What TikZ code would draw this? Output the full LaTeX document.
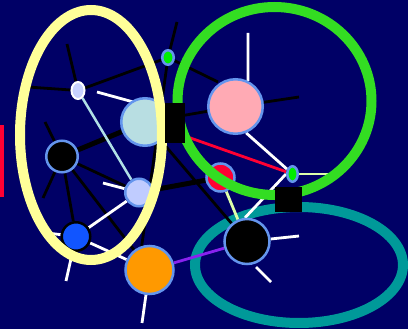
\documentclass[tikz,border=0pt]{standalone}
\usetikzlibrary{shapes.geometric}
\pgfdeclarelayer{bgl}
\pgfdeclarelayer{edgel}
\pgfdeclarelayer{frontl}
\pgfdeclarelayer{topl}
\pgfsetlayers{bgl,edgel,main,frontl,topl}
\definecolor{navy}{HTML}{000066}
\definecolor{ylw}{HTML}{FFFF99}
\definecolor{grn}{HTML}{33DD22}
\definecolor{tealc}{HTML}{009999}
\definecolor{cbl}{HTML}{6495ED}
\definecolor{powder}{HTML}{B8DEE2}
\definecolor{lav}{HTML}{C0CCFF}
\definecolor{lavA}{HTML}{C8D2FF}
\definecolor{pnk}{HTML}{FFAAB4}
\definecolor{redc}{HTML}{FF0033}
\definecolor{orng}{HTML}{FF9900}
\definecolor{blu}{HTML}{1155FF}
\definecolor{gnode}{HTML}{00EE00}
\definecolor{purp}{HTML}{8822EE}
\definecolor{pale}{HTML}{DDFFAA}
\definecolor{lblue}{HTML}{B0E0E6}
\begin{document}
\begin{tikzpicture}[x=1pt,y=-1pt,
  nd/.style={circle,draw=cbl,line width=2.5pt,inner sep=0pt},
  ovl/.style={ellipse,draw=cbl,line width=2.5pt,inner sep=0pt,fill=gnode},
  blk/.style={draw=black,line width=2.8pt},
  thk/.style={draw=black,line width=5pt},
  wht/.style={draw=white,line width=2.8pt},
  band/.style={line width=10pt},
  sq/.style={rectangle,fill=black,inner sep=0pt}]
\useasboundingbox (0,0) rectangle (408,329);
\begin{pgfonlayer}{bgl}
\fill[navy] (0,0) rectangle (408,329);
\draw[tealc,band] (299,265) ellipse [x radius=104, y radius=58];
\fill[redc] (0,125) rectangle (4,197);
\end{pgfonlayer}
% nodes
\node[ellipse,draw=white,line width=2pt,inner sep=0pt,fill=lavA,minimum width=13pt,minimum height=17pt] (A) at (78,90.5) {};
\node[nd,fill=powder,minimum size=47.5pt] (B) at (145,122) {};
\node[ovl,minimum width=11.5pt,minimum height=14.5pt] (D) at (168,57.5) {};
\node[nd,fill=pnk,minimum size=54.5pt] (E) at (235.5,106.5) {};
\node[nd,fill=black,minimum size=31.5pt] (F) at (62,156.5) {};
\node[nd,fill=lav,minimum size=27.5pt] (G) at (139,192.5) {};
\node[nd,draw=black,fill=blu,minimum size=28.5pt] (H) at (76,236.5) {};
\node[nd,fill=orng,minimum size=48pt] (I) at (149.5,270) {};
\node[nd,fill=redc,minimum size=28pt] (J) at (220.5,177.5) {};
\node[ovl,minimum width=10.5pt,minimum height=15.5pt] (L) at (292.5,174) {};
\node[nd,fill=black,minimum size=45pt] (M) at (247,241.5) {};
% free ends
\coordinate (a1) at (28,87);
\coordinate (a2) at (67,44);
\coordinate (d1) at (177,22);
\coordinate (d2) at (218,82);
\coordinate (e1) at (248,33);
\coordinate (e2) at (299,97);
\coordinate (f1) at (45,122);
\coordinate (f2) at (43,198);
\coordinate (g1) at (103,183);
\coordinate (h1) at (47,233);
\coordinate (h2) at (66,281);
\coordinate (i1) at (142,323);
\coordinate (m1) at (299,236);
\coordinate (m2a) at (256,267);
\coordinate (m2b) at (271,282);
\coordinate (l1) at (328,174);
\coordinate (w1) at (97,92);
\coordinate (w2) at (137,103);
\begin{pgfonlayer}{edgel}
\draw[blk] (A) -- (D);
\draw[blk] (D) -- (I.108);
\draw[blk] (B) -- (E);
\draw[blk] (B) -- (M);
\draw[blk] (F) -- (G);
\draw[blk] (F) -- (H);
\draw[blk] (F) -- (I);
\draw[thk] (F) -- (B);
\draw[thk] (G) -- (J);
\draw[draw=redc,line width=2.8pt] (B) -- (L);
\draw[draw=lblue,line width=2.5pt] (A) -- (G);
\draw[wht] (G) -- (H);
\draw[wht] (H) -- (I);
\draw[wht] (E.-68) -- (L);
\draw[wht] (L.west) -- (M.95);
\draw[draw=pale,line width=2.8pt] (J) -- (M);
\draw[draw=purp,line width=2.8pt] (I) -- (M);
% spokes
\draw[blk] (A) -- (a1);
\draw[blk] (A) -- (a2);
\draw[blk] (D) -- (d1);
\draw[blk] (D) -- (d2);
\draw[wht] (E.64) -- (e1);
\draw[blk] (E) -- (e2);
\draw[blk] (F) -- (f1);
\draw[blk] (F) -- (f2);
\draw[wht] (G) -- (g1);
\draw[wht] (H) -- (h1);
\draw[wht] (H) -- (h2);
\draw[wht] (I) -- (i1);
\draw[wht] (M) -- (m1);
\draw[wht] (m2a) -- (m2b);
\draw[draw=pale,line width=2.5pt] (L) -- (l1);
\draw[wht] (w1) -- (w2);
\end{pgfonlayer}
\begin{pgfonlayer}{frontl}
\draw[ylw,band] (91,135) ellipse [x radius=71, y radius=125];
\draw[grn,band] (274.5,101) ellipse [x radius=97, y radius=94];
\end{pgfonlayer}
\begin{pgfonlayer}{topl}
\node[sq,minimum width=20pt,minimum height=40pt] (C) at (175,123) {};
\node[sq,minimum width=27pt,minimum height=25pt] (K) at (288.5,199.5) {};
\end{pgfonlayer}
\end{tikzpicture}
\end{document}
